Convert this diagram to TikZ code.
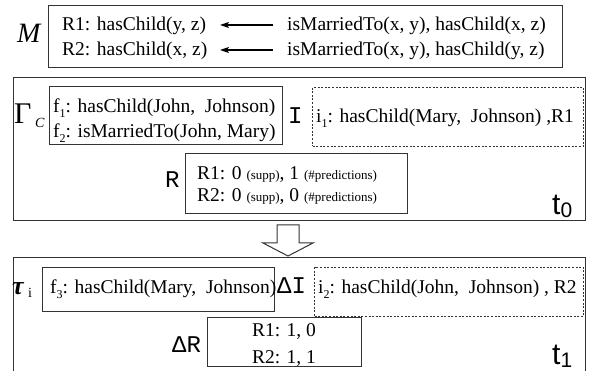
\documentclass[tikz,border=0pt]{standalone}
\usepackage{fontspec}
\setmainfont{Liberation Serif}
\newfontfamily\monof{Liberation Mono}
\newfontfamily\sansf{Liberation Sans}
\usetikzlibrary{arrows.meta}
\newcommand\mysub[1]{\raisebox{-0.22em}{\fontsize{12}{12}\selectfont #1}}
\newcommand\fmain{\fontsize{19.5}{23}\selectfont}
\newcommand\fsmall{\fontsize{13}{15}\selectfont}
\newcommand\tsub[2]{{\sansf\fontsize{30}{30}\selectfont #1\raisebox{-3pt}{\fontsize{21}{21}\selectfont #2}}}
\begin{document}
\begin{tikzpicture}[x=1pt,y=-1pt,
  frame/.style={draw=black!80, line width=1pt},
  box/.style={frame, inner sep=0pt, anchor=north west},
  dbox/.style={box, dash pattern=on 2pt off 1.6pt},
  txt/.style={inner sep=0pt, anchor=base west, font=\fmain},
  ctxt/.style={inner sep=0pt, anchor=base, font=\fmain},
  lbl/.style={inner sep=0pt, anchor=base west, font=\monof\fontsize{24}{24}\selectfont},
  rulearrow/.style={draw=black, line width=1.3pt, -{Stealth[length=9pt,width=6pt,inset=2pt]}}]
\useasboundingbox (0,0) rectangle (592,371);

% ---------- M box ----------
\node[inner sep=0pt, anchor=base west, font=\itshape\fontsize{28}{28}\selectfont] (mlabel) at (17,43) {M};
\node[box, minimum width=514pt, minimum height=62pt] (mbox) at (48,5) {};
\node[txt] (h1) at (62,31) {R1: hasChild(y, z)};
\node[txt] (h2) at (62,56) {R2: hasChild(x, z)};
\node[txt] (b1) at (287,31) {isMarriedTo(x, y), hasChild(x, z)};
\node[txt] (b2) at (287,56) {isMarriedTo(x, y), hasChild(y, z)};
\coordinate (a1s) at (273,25); \coordinate (a1e) at (220,25);
\coordinate (a2s) at (273,50); \coordinate (a2e) at (220,50);
\draw[rulearrow] (a1s) -- (a1e);
\draw[rulearrow] (a2s) -- (a2e);

% ---------- Gamma box (t0) ----------
\node[box, minimum width=572pt, minimum height=143pt] (gbox) at (13,77) {};
\node[inner sep=0pt, anchor=base west, font=\fontsize{30}{30}\selectfont] (gamma) at (14,124) {Γ};
\node[inner sep=0pt, anchor=base west, font=\itshape\fontsize{14}{14}\selectfont] (gsub) at (35,128) {C};
\node[box, minimum width=233pt, minimum height=58pt] (fbox) at (49,86) {};
\node[txt] (f1) at (53,113) {f\mysub{1}: hasChild(John,\ \ Johnson)};
\node[txt] (f2) at (53,138) {f\mysub{2}: isMarriedTo(John, Mary)};
\node[lbl] (ilabel) at (288,124) {I};
\node[dbox, minimum width=271pt, minimum height=59pt] (ibox) at (312,87) {};
\node[txt] (i1) at (316,123) {i\mysub{1}: hasChild(Mary,\ \ Johnson) ,R1};
\node[lbl] (rlabel) at (165,188) {R};
\node[box, minimum width=222pt, minimum height=60pt] (rbox) at (185,153) {};
\node[txt] (r1) at (197,180) {R1: 0 {\fsmall (supp)}, 1 {\fsmall (\#predictions)}};
\node[txt] (r2) at (197,202) {R2: 0 {\fsmall (supp)}, 0 {\fsmall (\#predictions)}};
\node[inner sep=0pt, anchor=base west] (t0) at (552,215) {\tsub{t}{0}};

% ---------- block arrow ----------
\draw[frame, fill=white] (277,225) -- (299,225) -- (299,243) -- (313,243) -- (288,256)
  -- (263,243) -- (277,243) -- cycle;

% ---------- bottom box (t1), open at the bottom ----------
\draw[frame] (13,376) -- (13,258) -- (585,258) -- (585,376);
\node[inner sep=0pt, anchor=base west, font=\bfseries\itshape\fontsize{26}{26}\selectfont] (tau) at (12,295) {τ};
\node[inner sep=0pt, anchor=base west, font=\fontsize{14}{14}\selectfont] (tausub) at (28,298) {i};
\node[box, minimum width=232pt, minimum height=44pt] (f3box) at (42,267) {};
\node[txt] (f3) at (50,294) {f\mysub{3}: hasChild(Mary,\ \ Johnson)};
\node[lbl] (dilabel) at (277,294) {ΔI};
\node[dbox, minimum width=269pt, minimum height=49pt] (i2box) at (314,267) {};
\node[txt] (i2) at (318,294) {i\mysub{2}: hasChild(John,\ \ Johnson) , R2};
\node[lbl] (drlabel) at (172,353) {ΔR};
\node[box, minimum width=154pt, minimum height=49pt] (drbox) at (207,317) {};
\node[ctxt] (dr1) at (284,337) {R1: 1, 0};
\node[ctxt] (dr2) at (284,363) {R2: 1, 1};
\node[inner sep=0pt, anchor=base west] (t1) at (552,365) {\tsub{t}{1}};
\end{tikzpicture}
\end{document}
